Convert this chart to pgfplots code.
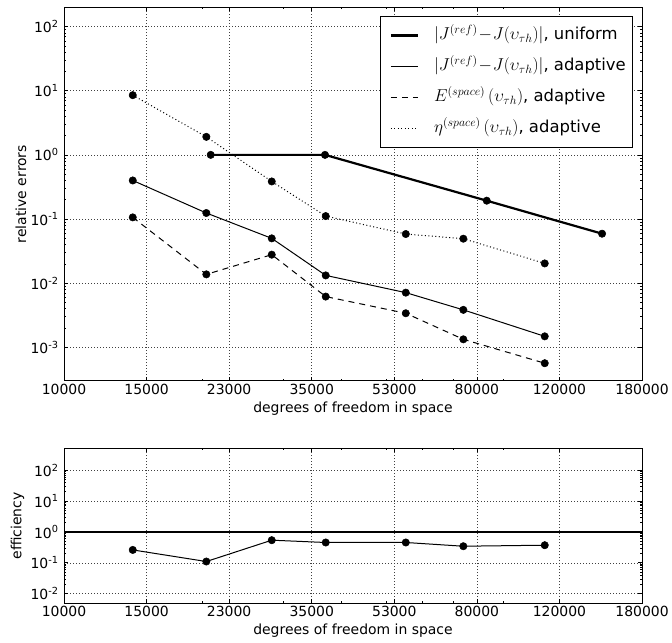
\documentclass[border=0pt]{standalone}
\usepackage{fontspec}
\setmainfont{DejaVu Sans}
\usepackage{pgfplots}
\pgfplotsset{compat=1.18}

% powers of ten set in the text font
\newcommand{\pten}[1]{10\textsuperscript{#1}}

% filled circle markers
\tikzset{errmark/.style={mark=*, mark size=3.7bp,
  mark options={solid, fill=black, line width=0.5bp}}}

\begin{document}
\begin{tikzpicture}
\useasboundingbox (0,0) rectangle (672bp,643bp);

% relative errors
\begin{axis}[
  scale only axis, width=578bp, height=373.5bp,
  anchor=south west, at={(64bp,262.2bp)},
  xmode=log, ymode=log,
  xmin=10000, xmax=180000,
  ymin=3e-4, ymax=200,
  xtick={10000,15112.1,22837.6,34512.5,52155.8,78818.6,119112,180000},
  xticklabels={10000,15000,23000,35000,53000,80000,120000,180000},
  minor xtick={20000,30000,40000,50000,60000,70000,90000},
  ytick={1e-3,1e-2,1e-1,1,10,100},
  yticklabels={\pten{-3},\pten{-2},\pten{-1},\pten{0},\pten{1},\pten{2}},
  grid=major,
  major grid style={black!75, line width=0.5bp, dash pattern=on 0.8bp off 2.2bp},
  tick align=inside,
  major tick length=4bp, minor tick length=2bp,
  tick style={black, line width=0.6bp},
  axis line style={line width=1bp},
  ticklabel style={font=\fontsize{14}{16}\selectfont},
  yticklabel style={xshift=-2bp},
  xlabel={degrees of freedom in space},
  ylabel={relative errors},
  every axis x label/.style={at={(axis description cs:0.5,0)}, yshift=-28bp,
    anchor=center, font=\fontsize{14}{16}\selectfont},
  every axis y label/.style={at={(axis description cs:-0.0744,0.5)}, rotate=90,
    anchor=center, font=\fontsize{14}{16}\selectfont},
  legend cell align=left,
  legend image code/.code={
    \path (0bp,0bp) (44.7bp,0bp);
    \draw[#1, mark=none] (4.4bp,0bp) -- (31.4bp,0bp);},
  legend style={at={(1,1)}, xshift=-8.7bp, yshift=-8.4bp, anchor=north east,
    draw=black, line width=1bp, font=\fontsize{16.5}{19}\selectfont,
    inner xsep=5bp, inner ysep=8.3bp, row sep=9bp,
    nodes={inner sep=2bp, text height=13bp, text depth=5bp}},
]
\addplot[black, line width=2.2bp, errmark] coordinates {
  (20826,1.0) (36880,1.0) (82800,0.193) (147400,0.059)};
\addlegendentry{$|J^{(ref)}\!-\!J(\upsilon_{\tau h})|$, uniform}

\addplot[black, line width=1bp, errmark] coordinates {
  (14102,0.399) (20374,0.124) (28258,0.0499) (37018,0.0132)
  (55237,0.00711) (73660,0.00383) (110660,0.00148)};
\addlegendentry{$|J^{(ref)}\!-\!J(\upsilon_{\tau h})|$, adaptive}

\addplot[black, line width=1bp, dash pattern=on 6bp off 5bp, errmark] coordinates {
  (14102,0.106) (20374,0.0137) (28258,0.0278) (37018,0.00617)
  (55237,0.00339) (73660,0.00133) (110660,0.000564)};
\addlegendentry{$E^{(space)}\,(\upsilon_{\tau h})$, adaptive}

\addplot[black, line width=1bp, dash pattern=on 1bp off 2.5bp, errmark] coordinates {
  (14102,8.53) (20374,1.91) (28258,0.385) (37018,0.111)
  (55237,0.0583) (73660,0.0493) (110660,0.0203)};
\addlegendentry{$\eta^{(space)}\,(\upsilon_{\tau h})$, adaptive}
\end{axis}

% efficiency index
\begin{axis}[
  scale only axis, width=578bp, height=154.5bp,
  anchor=south west, at={(64bp,40bp)},
  xmode=log, ymode=log,
  xmin=10000, xmax=180000,
  ymin=0.005, ymax=500,
  xtick={10000,15112.1,22837.6,34512.5,52155.8,78818.6,119112,180000},
  xticklabels={10000,15000,23000,35000,53000,80000,120000,180000},
  minor xtick={20000,30000,40000,50000,60000,70000,90000},
  ytick={1e-2,1e-1,1,10,100},
  yticklabels={\pten{-2},\pten{-1},\pten{0},\pten{1},\pten{2}},
  grid=major,
  major grid style={black!75, line width=0.5bp, dash pattern=on 0.8bp off 2.2bp},
  tick align=inside,
  major tick length=4bp, minor tick length=2bp,
  tick style={black, line width=0.6bp},
  axis line style={line width=1bp},
  ticklabel style={font=\fontsize{14}{16}\selectfont},
  yticklabel style={xshift=-2bp},
  xlabel={degrees of freedom in space},
  ylabel={efficiency},
  every axis x label/.style={at={(axis description cs:0.5,0)}, yshift=-27.5bp,
    anchor=center, font=\fontsize{14}{16}\selectfont},
  every axis y label/.style={at={(axis description cs:-0.0804,0.5)}, rotate=90,
    anchor=center, font=\fontsize{14}{16}\selectfont},
]
\addplot[black, line width=2.2bp, no marks] coordinates {(10000,1) (180000,1)};
\addplot[black, line width=1bp, errmark] coordinates {
  (14102,0.261) (20374,0.110) (28258,0.539) (37018,0.454)
  (55237,0.454) (73660,0.344) (110660,0.371)};
\end{axis}
\end{tikzpicture}
\end{document}
